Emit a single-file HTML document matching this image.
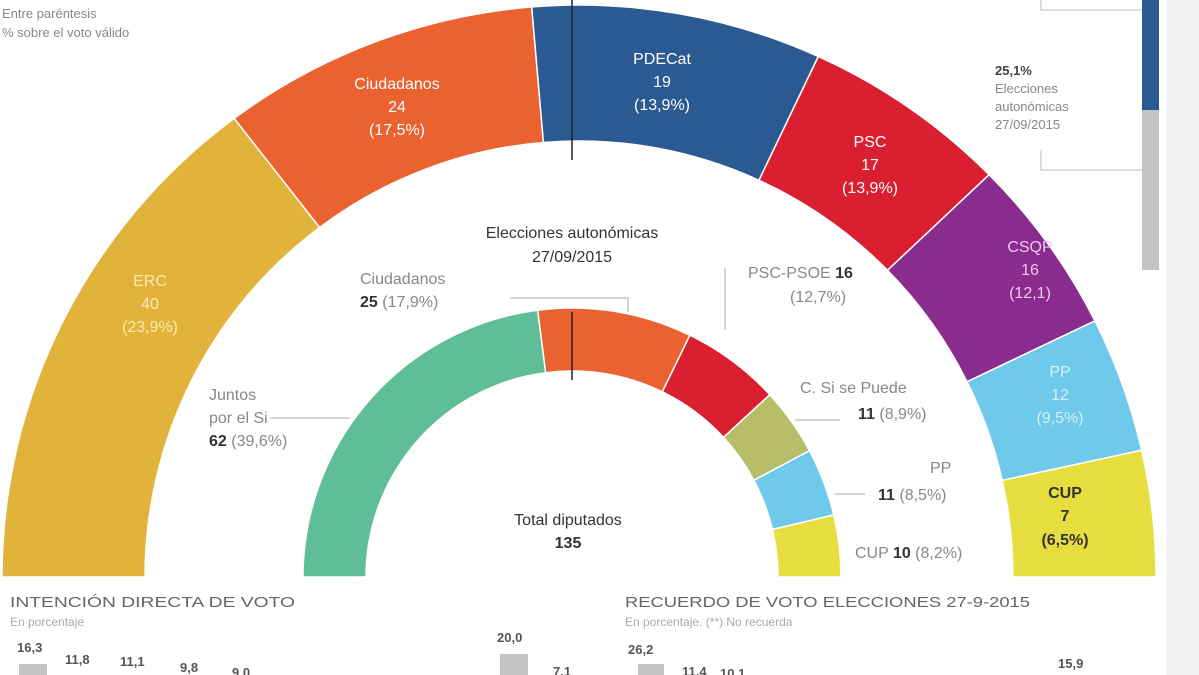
<!DOCTYPE html>
<html><head><meta charset="utf-8"><style>
html,body{margin:0;padding:0;background:#fff;}
body{width:1199px;height:675px;overflow:hidden;position:relative;font-family:"Liberation Sans",sans-serif;}
svg{position:absolute;left:0;top:0}
</style></head><body>
<svg id="s" width="1199" height="675" xmlns="http://www.w3.org/2000/svg" font-family="Liberation Sans, sans-serif">
<rect x="1166" y="0" width="33" height="675" fill="#f4f4f4"/>
<g id="arcs"></g>
<line x1="572" y1="0" x2="572" y2="160" stroke="#222" stroke-width="1.5"/>
<line x1="572" y1="312" x2="572" y2="380" stroke="#222" stroke-width="1.5"/>
<rect x="1142" y="0" width="17" height="110" fill="#2b5a92"/>
<rect x="1142" y="110" width="17" height="160" fill="#c4c4c4"/>
<polyline points="1041,0 1041,10 1142,10" fill="none" stroke="#bbb"/>
<polyline points="1041,150 1041,170 1142,170" fill="none" stroke="#bbb"/>
<g font-size="13" fill="#888">
<text x="995" y="75" fill="#444" font-weight="bold">25,1%</text>
<text x="995" y="93">Elecciones</text>
<text x="995" y="111">autonómicas</text>
<text x="995" y="129">27/09/2015</text>
<text x="2" y="18">Entre paréntesis</text>
<text x="2" y="37">% sobre el voto válido</text>
</g>
<g font-size="16" text-anchor="middle" fill="#fff">
<g fill="#fbe9b0"><text x="150" y="286">ERC</text><text x="150" y="309">40</text><text x="150" y="332">(23,9%)</text></g>
<text x="397" y="89">Ciudadanos</text><text x="397" y="112">24</text><text x="397" y="135">(17,5%)</text>
<text x="662" y="64">PDECat</text><text x="662" y="87">19</text><text x="662" y="110">(13,9%)</text>
<text x="870" y="147">PSC</text><text x="870" y="170">17</text><text x="870" y="193">(13,9%)</text>
<g fill="#efc8f0"><text x="1030" y="252">CSQP</text><text x="1030" y="275">16</text><text x="1030" y="298">(12,1)</text></g>
<g fill="#d6f0fa"><text x="1060" y="377">PP</text><text x="1060" y="400">12</text><text x="1060" y="423">(9,5%)</text></g>
<g fill="#333" font-weight="bold"><text x="1065" y="498">CUP</text><text x="1065" y="521">7</text><text x="1065" y="545">(6,5%)</text></g>
</g>
<g font-size="16" fill="#333">
<text x="572" y="238" text-anchor="middle">Elecciones autonómicas</text>
<text x="572" y="262" text-anchor="middle">27/09/2015</text>
<text x="568" y="525" text-anchor="middle">Total diputados</text>
<text x="568" y="548" text-anchor="middle" font-weight="bold">135</text>
<text x="360" y="284" fill="#888">Ciudadanos</text>
<text x="360" y="307"><tspan font-weight="bold">25</tspan> <tspan fill="#888">(17,9%)</tspan></text>
<text x="748" y="278" fill="#888">PSC-PSOE <tspan fill="#333" font-weight="bold">16</tspan></text>
<text x="790" y="302" fill="#888">(12,7%)</text>
<text x="800" y="393" fill="#888">C. Si se Puede</text>
<text x="858" y="419"><tspan font-weight="bold">11</tspan> <tspan fill="#888">(8,9%)</tspan></text>
<text x="930" y="473" fill="#888">PP</text>
<text x="878" y="500"><tspan font-weight="bold">11</tspan> <tspan fill="#888">(8,5%)</tspan></text>
<text x="855" y="558" fill="#888">CUP <tspan fill="#333" font-weight="bold">10</tspan> (8,2%)</text>
<text x="209" y="400" fill="#888">Juntos</text>
<text x="209" y="423" fill="#888">por el Si</text>
<text x="209" y="446"><tspan font-weight="bold">62</tspan> <tspan fill="#888">(39,6%)</tspan></text>
</g>
<g stroke="#aaa" fill="none">
<polyline points="510,298 628,298 628,312"/>
<line x1="725" y1="268" x2="725" y2="330"/>
<line x1="270" y1="418" x2="350" y2="418"/>
<line x1="795" y1="420" x2="840" y2="420"/>
<line x1="835" y1="494" x2="865" y2="494"/>
</g>
<g fill="#666" font-size="15">
<text x="10" y="607" textLength="285" lengthAdjust="spacingAndGlyphs">INTENCIÓN DIRECTA DE VOTO</text>
<text x="625" y="607" textLength="405" lengthAdjust="spacingAndGlyphs">RECUERDO DE VOTO ELECCIONES 27-9-2015</text>
</g>
<g fill="#aaa" font-size="12">
<text x="10" y="626">En porcentaje</text>
<text x="625" y="626">En porcentaje. (**) No recuerda</text>
</g>
<g fill="#555" font-size="13" font-weight="bold">
<text x="17" y="652">16,3</text><text x="65" y="664">11,8</text><text x="120" y="666">11,1</text><text x="180" y="672">9,8</text><text x="232" y="677">9,0</text>
<text x="497" y="642">20,0</text><text x="553" y="676">7,1</text>
<text x="628" y="654">26,2</text><text x="682" y="676">11,4</text><text x="720" y="678">10,1</text><text x="1058" y="668">15,9</text>
</g>
<g fill="#c4c4c4">
<rect x="19" y="664" width="28" height="15"/><rect x="500" y="654" width="28" height="25"/><rect x="638" y="664" width="26" height="15"/>
</g>
</svg>
<script>
function seg(cx,cy,rxo,ryo,rxi,ryi,a0,a1,col){
 function p(rx,ry,a){var t=Math.PI-a*Math.PI/180;return [cx+rx*Math.cos(t),cy-ry*Math.sin(t)];}
 var A=p(rxo,ryo,a0),B=p(rxo,ryo,a1),C=p(rxi,ryi,a1),D=p(rxi,ryi,a0);
 return '<path d="M'+A+' A'+rxo+' '+ryo+' 0 0 1 '+B+' L'+C+' A'+rxi+' '+ryi+' 0 0 0 '+D+' Z" fill="'+col+'" stroke="#fff" stroke-width="1.5"/>';
}
var h='';
var outer=[[53.3,'#e2b33b'],[85.3,'#e9622f'],[114.5,'#2b5a92'],[135.3,'#da1f30'],[153.4,'#8a2b8e'],[167.2,'#6ec9ea'],[180,'#e6de3e']];
var c=0;outer.forEach(function(o){h+=seg(579,577,577,572,434,436,c,o[0],o[1]);c=o[0];});
var inner=[[62,'#5fbe98'],[25,'#e9622f'],[16,'#da1f30'],[11,'#b8bd6a'],[11,'#6ec9ea'],[10,'#e6de3e']];
c=0;inner.forEach(function(o){var a0=c/135*180;c+=o[0];h+=seg(572,577,269,269,206,206,a0,c/135*180,o[1]);});
document.getElementById('arcs').innerHTML=h;
</script>
</body></html>
